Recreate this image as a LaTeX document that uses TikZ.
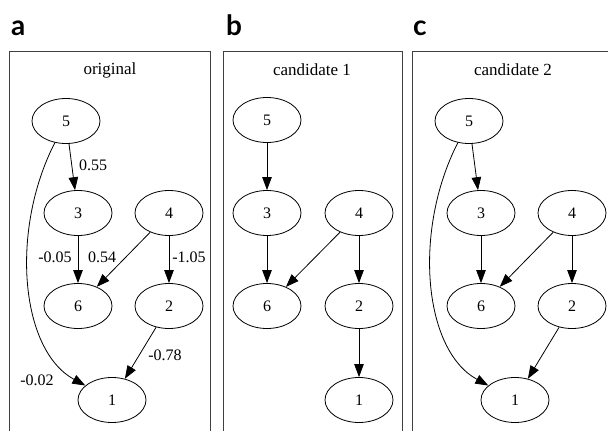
\documentclass[tikz,border=0pt]{standalone}
\usepackage{fontspec}
\setmainfont{Liberation Serif}
\newfontfamily\panelfont{Lato}
\usetikzlibrary{shapes.geometric,arrows.meta}
\tikzset{
    var/.style={draw, ellipse, line width=0.8pt, minimum width=68pt, minimum height=45pt, inner sep=0pt, font=\fontsize{16}{19}\selectfont},
    edge/.style={line width=0.8pt, -{Triangle[length=13pt,width=9.5pt]}},
    weight/.style={font=\fontsize{16}{19}\selectfont, inner sep=0pt},
    title/.style={font=\fontsize{17}{20}\selectfont, inner sep=0pt},
    panel/.style={font=\panelfont\bfseries\fontsize{28}{31}\selectfont, anchor=base west, inner sep=0pt},
    frame/.style={line width=0.9pt, black!75},
}
\begin{document}
\begin{tikzpicture}[x=1pt, y=-1pt]
    \useasboundingbox (0,0) rectangle (608,431);

    % Panel a: original graph with weights
    \begin{scope}
        \node[panel] (pa) at (11,35) {a};
        \draw[frame] (9,433) |- (210,51) -- (210,433);
        \node[title] (ta) at (110,70) {original};
        \node[var] (a5) at (66,121) {5};
        \node[var] (a3) at (78,213) {3};
        \node[var] (a4) at (169,213) {4};
        \node[var] (a6) at (78,306) {6};
        \node[var] (a2) at (169,306) {2};
        \node[var] (a1) at (112,400) {1};
        \draw[edge] (a5) -- (a3);
        \draw[edge] (a5) .. controls (10,230) and (20,350) .. (a1);
        \draw[edge] (a3) -- (a6);
        \draw[edge] (a4) -- (a6);
        \draw[edge] (a4) -- (a2);
        \draw[edge] (a2) -- (a1);
        % Weights
        \node[weight] (w53) at (93,165) {0.55};
        \node[weight] (w36) at (55,257) {-0.05};
        \node[weight] (w46) at (102,257) {0.54};
        \node[weight] (w42) at (189,257) {-1.05};
        \node[weight] (w21) at (165,355) {-0.78};
        \node[weight] (w51) at (37,380) {-0.02};
    \end{scope}

    % Panel b: candidate 1
    \begin{scope}
        \node[panel] (pb) at (226,35) {b};
        \draw[frame] (223,433) |- (402,51) -- (402,433);
        \node[title] (tb) at (312,70) {candidate 1};
        \node[var] (b5) at (267,120) {5};
        \node[var] (b3) at (267,213) {3};
        \node[var] (b4) at (359,213) {4};
        \node[var] (b6) at (267,306) {6};
        \node[var] (b2) at (359,306) {2};
        \node[var] (b1) at (359,400) {1};
        \draw[edge] (b5) -- (b3);
        \draw[edge] (b3) -- (b6);
        \draw[edge] (b4) -- (b6);
        \draw[edge] (b4) -- (b2);
        \draw[edge] (b2) -- (b1);
    \end{scope}

    % Panel c: candidate 2
    \begin{scope}[xshift=403pt]
        \node[panel] (pc) at (10,35) {c};
        \draw[frame] (9,433) |- (210,51) -- (210,433);
        \node[title] (tc) at (110,70) {candidate 2};
        \node[var] (c5) at (66,121) {5};
        \node[var] (c3) at (78,213) {3};
        \node[var] (c4) at (169,213) {4};
        \node[var] (c6) at (78,306) {6};
        \node[var] (c2) at (169,306) {2};
        \node[var] (c1) at (112,400) {1};
        \draw[edge] (c5) -- (c3);
        \draw[edge] (c5) .. controls (10,230) and (20,350) .. (c1);
        \draw[edge] (c3) -- (c6);
        \draw[edge] (c4) -- (c6);
        \draw[edge] (c4) -- (c2);
        \draw[edge] (c2) -- (c1);
    \end{scope}
\end{tikzpicture}
\end{document}
